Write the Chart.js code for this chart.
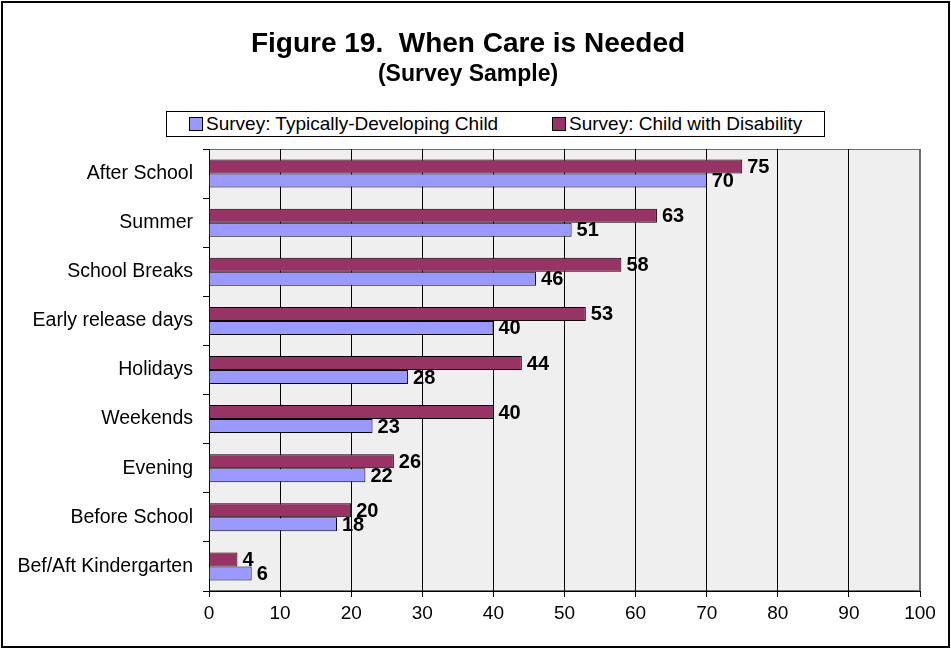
<!DOCTYPE html>
<html>
<head>
<meta charset="utf-8">
<title>When Care is Needed</title>
<script src="https://cdn.jsdelivr.net/npm/chart.js@4/dist/chart.umd.min.js"></script>
<style>
  html, body { margin: 0; padding: 0; background: #fff; overflow: hidden; }
  #chart { position: absolute; left: 0; top: 0; }
  #frame {
    position: absolute; left: 1px; top: 1px; width: 949px; height: 647px;
    border: 2px solid #000; box-sizing: border-box; pointer-events: none;
  }
  #legend {
    position: absolute; left: 166px; top: 111px; width: 659px; height: 26px;
    border: 1px solid #000; box-sizing: border-box; background: #fff;
    font: 19px "Liberation Sans", Arial, sans-serif; color: #000;
  }
  #legend .item { position: absolute; top: 0; height: 24px; display: flex; align-items: center; white-space: nowrap; }
  #legend .swatch { width: 12px; height: 12px; border: 1px solid #000; margin-right: 3px; }
</style>
</head>
<body>
<canvas id="chart" width="951" height="648"></canvas>
<div id="legend"></div>
<div id="frame"></div>
<script>
// Survey answers: percent of respondents needing care at each time
const careTimes = [
    "After School", "Summer", "School Breaks", "Early release days", "Holidays",
    "Weekends", "Evening", "Before School", "Bef/Aft Kindergarten"
];
const typicalChild = [70, 51, 46, 40, 28, 23, 22, 18, 6];
const disabilityChild = [75, 63, 58, 53, 44, 40, 26, 20, 4];
const xTicks = [0, 10, 20, 30, 40, 50, 60, 70, 80, 90, 100];

const FONT = '"Liberation Sans", Arial, sans-serif';
Chart.defaults.font.family = FONT;
Chart.defaults.color = "#000";

// grey plot background with a darker frame on top / right
const plotBackground = {
    id: "plotBackground",
    beforeDraw(chart) {
        const { ctx, chartArea: a } = chart;
        ctx.save();
        ctx.fillStyle = "#efefef";
        ctx.fillRect(a.left, a.top, a.width, a.height);
        ctx.strokeStyle = "#6e6e6e";
        ctx.lineWidth = 1;
        ctx.strokeRect(a.left + 0.5, a.top + 0.5, a.width - 1, a.height - 1);
        ctx.restore();
    }
};

// value printed just past the end of every bar
const barValues = {
    id: "barValues",
    afterDatasetsDraw(chart) {
        const ctx = chart.ctx;
        ctx.save();
        ctx.font = "bold 20px " + FONT;
        ctx.fillStyle = "#000";
        ctx.textAlign = "left";
        ctx.textBaseline = "middle";
        chart.data.datasets.forEach((ds, i) => {
            chart.getDatasetMeta(i).data.forEach((bar, j) => {
                ctx.fillText(ds.data[j], bar.x + 5, bar.y + 1);
            });
        });
        ctx.restore();
    }
};

const chart = new Chart(document.getElementById("chart"), {
    type: "bar",
    data: {
        labels: careTimes,
        datasets: [
            { label: "Survey: Child with Disability", data: disabilityChild, backgroundColor: "#993366" },
            { label: "Survey: Typically-Developing Child", data: typicalChild, backgroundColor: "#9999ff" }
        ]
    },
    options: {
        indexAxis: "y",
        responsive: false,
        animation: false,
        datasets: {
            bar: { borderColor: "#000", borderWidth: 1, categoryPercentage: 0.57, barPercentage: 1 }
        },
        // small left padding nudges the titles right; the y axis fills the rest
        layout: { padding: { top: 0, right: 31, bottom: 0, left: 16 } },
        plugins: {
            legend: { display: false },
            tooltip: { enabled: false },
            title: {
                display: true,
                text: "Figure 19.  When Care is Needed",
                font: { size: 28, weight: "bold" },
                padding: { top: 27, bottom: 0 }
            },
            subtitle: {
                display: true,
                text: "(Survey Sample)",
                color: "#000",
                font: { size: 23, weight: "bold" },
                padding: { top: 0, bottom: 60.8 }
            }
        },
        scales: {
            x: {
                min: 0,
                max: 100,
                afterBuildTicks: axis => { axis.ticks = xTicks.map(v => ({ value: v })); },
                ticks: { font: { size: 19 }, padding: 5 },
                grid: {
                    color: c => (c.tick && c.tick.value === 100 ? "#6e6e6e" : "#000"),
                    tickColor: "#000",
                    tickLength: 6
                },
                border: { color: "#000" },
                afterFit: axis => { axis.height = 57; }
            },
            y: {
                ticks: { font: { size: 19.5 }, padding: 10 },
                grid: { drawOnChartArea: false, offset: true, color: "#000", tickLength: 6 },
                border: { color: "#000" },
                afterFit: axis => { axis.width = 193; }
            }
        }
    },
    plugins: [plotBackground, barValues]
});

// legend box, listed in reverse of the bar stacking order
const legendEl = document.getElementById("legend");
const itemLeft = [22, 385];
chart.data.datasets.slice().reverse().forEach((ds, i) => {
    const item = document.createElement("div");
    item.className = "item";
    item.style.left = itemLeft[i] + "px";
    const swatch = document.createElement("span");
    swatch.className = "swatch";
    swatch.style.background = ds.backgroundColor;
    const text = document.createElement("span");
    text.textContent = ds.label;
    item.appendChild(swatch);
    item.appendChild(text);
    legendEl.appendChild(item);
});
</script>
</body>
</html>
